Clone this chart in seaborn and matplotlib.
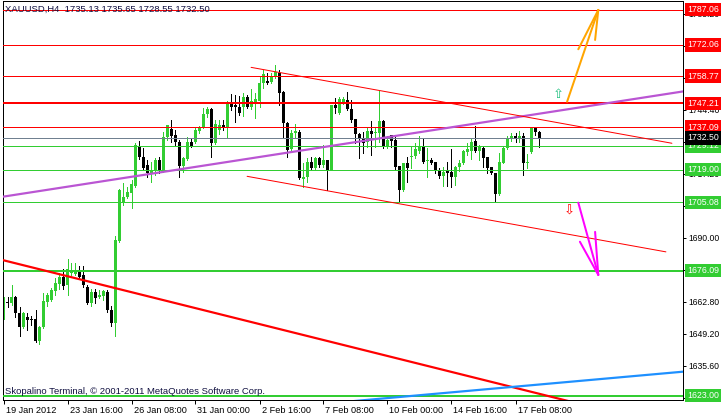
import numpy as np
import pandas as pd
import matplotlib
matplotlib.use("Agg")
import matplotlib.pyplot as plt
import matplotlib.transforms as mtransforms
import seaborn as sns

# ---------------- data ----------------
dates = ["19 Jan 2012", "23 Jan 16:00", "26 Jan 08:00", "31 Jan 00:00", "2 Feb 16:00",
         "7 Feb 08:00", "10 Feb 00:00", "14 Feb 16:00", "17 Feb 08:00"]
date_bars = [0, 16, 32, 48, 64, 80, 96, 112, 128]

opens = [1659.4, 1662.8, 1662.4, 1664.9, 1658.1, 1652.2, 1656.4, 1655.6, 1655.6, 1646.2,
         1652.2, 1662.8, 1663.7, 1667.5, 1670.4, 1673.4, 1670.0, 1675.1, 1674.7, 1675.5,
         1674.3, 1669.2, 1662.4, 1667.0, 1664.9, 1665.4, 1667.0, 1659.4, 1653.9, 1688.7,
         1704.9, 1707.4, 1709.1, 1712.1, 1729.1, 1724.4, 1721.0, 1717.6, 1718.9, 1723.2,
         1718.9, 1732.9, 1736.3, 1733.8, 1730.8, 1720.6, 1723.6, 1730.8, 1730.8, 1735.5,
         1737.2, 1742.7, 1744.8, 1730.4, 1735.9, 1738.0, 1737.2, 1747.8, 1746.5, 1745.7,
         1745.7, 1749.9, 1745.7, 1747.8, 1748.2, 1755.9, 1756.7, 1756.3, 1758.4, 1760.1,
         1752.1, 1738.9, 1727.8, 1734.6, 1735.1, 1715.1, 1715.9, 1722.3, 1719.8, 1724.0,
         1721.0, 1723.2, 1718.9, 1746.5, 1743.1, 1747.4, 1748.7, 1744.8, 1740.6, 1734.2,
         1732.5, 1730.8, 1735.5, 1734.6, 1734.6, 1739.7, 1728.7, 1733.8, 1731.7, 1720.6,
         1710.4, 1721.9, 1724.4, 1724.9, 1727.0, 1728.7, 1722.7, 1723.2, 1722.3, 1718.9,
         1716.4, 1718.5, 1718.1, 1715.9, 1720.2, 1721.9, 1726.6, 1727.0, 1731.2, 1727.0,
         1728.2, 1724.4, 1720.2, 1717.6, 1708.7, 1721.9, 1728.2, 1732.1, 1733.4, 1732.1,
         1733.4, 1721.9, 1726.6, 1737.2, 1735.13]
highs = [1664.9, 1664.9, 1670.0, 1665.4, 1660.7, 1658.6, 1658.1, 1656.9, 1659.4, 1652.6,
         1666.6, 1666.6, 1668.8, 1673.0, 1675.1, 1676.8, 1681.1, 1679.4, 1679.4, 1678.1,
         1678.1, 1670.0, 1668.3, 1668.3, 1667.9, 1667.9, 1667.9, 1661.1, 1690.9, 1710.8,
         1713.4, 1711.7, 1714.7, 1730.4, 1731.2, 1728.2, 1723.2, 1722.3, 1724.0, 1724.4,
         1735.1, 1738.0, 1740.2, 1735.9, 1731.7, 1724.4, 1732.9, 1732.1, 1737.2, 1737.6,
         1745.3, 1745.7, 1745.3, 1740.2, 1740.2, 1740.2, 1748.2, 1751.2, 1750.8, 1750.4,
         1751.6, 1750.8, 1753.3, 1751.6, 1758.4, 1761.4, 1760.1, 1760.1, 1763.5, 1761.4,
         1752.5, 1739.3, 1735.9, 1738.4, 1735.9, 1721.9, 1724.0, 1724.4, 1724.4, 1724.4,
         1729.5, 1723.2, 1746.5, 1749.5, 1749.9, 1749.9, 1752.1, 1748.7, 1740.6, 1734.6,
         1735.1, 1737.2, 1739.7, 1736.8, 1752.5, 1740.2, 1733.4, 1733.8, 1733.8, 1720.6,
         1721.9, 1724.4, 1728.7, 1730.4, 1733.4, 1732.5, 1728.2, 1724.0, 1722.3, 1719.8,
         1720.2, 1722.3, 1727.8, 1720.6, 1723.2, 1727.4, 1730.4, 1732.1, 1737.6, 1729.5,
         1728.7, 1724.4, 1720.2, 1717.6, 1726.1, 1728.7, 1733.4, 1734.6, 1734.6, 1735.5,
         1734.6, 1725.7, 1737.2, 1737.2, 1735.65]
lows = [1655.6, 1660.7, 1661.5, 1656.4, 1648.4, 1651.8, 1650.9, 1653.0, 1645.8, 1644.9,
        1651.8, 1661.1, 1663.2, 1665.8, 1668.3, 1668.3, 1665.8, 1674.3, 1674.3, 1672.6,
        1669.2, 1662.0, 1661.1, 1662.4, 1664.5, 1663.7, 1658.6, 1652.6, 1648.4, 1688.3,
        1704.0, 1707.0, 1702.8, 1711.7, 1723.6, 1718.9, 1715.9, 1713.8, 1716.8, 1717.6,
        1718.1, 1731.7, 1730.8, 1729.1, 1715.9, 1718.1, 1723.2, 1728.7, 1730.4, 1734.6,
        1736.8, 1741.4, 1724.4, 1730.0, 1734.2, 1735.9, 1732.5, 1744.4, 1739.3, 1742.3,
        1741.8, 1745.3, 1744.8, 1741.0, 1745.7, 1753.8, 1755.5, 1755.9, 1758.0, 1746.5,
        1732.9, 1724.4, 1726.6, 1732.9, 1715.1, 1711.7, 1713.8, 1718.9, 1718.9, 1720.2,
        1720.2, 1710.4, 1718.9, 1743.1, 1742.7, 1747.0, 1744.4, 1739.3, 1730.4, 1724.0,
        1726.1, 1728.7, 1725.3, 1728.7, 1730.8, 1728.2, 1728.2, 1728.7, 1718.9, 1705.3,
        1710.0, 1713.8, 1719.8, 1724.0, 1726.1, 1721.9, 1715.9, 1721.5, 1717.6, 1715.5,
        1712.1, 1712.1, 1711.7, 1712.5, 1718.5, 1721.5, 1725.3, 1723.6, 1726.6, 1723.2,
        1720.2, 1717.6, 1717.2, 1705.3, 1708.3, 1721.9, 1727.8, 1731.2, 1730.8, 1730.8,
        1716.8, 1719.8, 1726.1, 1733.8, 1728.55]
closes = [1662.8, 1662.4, 1664.9, 1658.1, 1652.2, 1658.1, 1655.2, 1655.2, 1646.2, 1652.2,
          1663.2, 1665.8, 1667.9, 1670.9, 1673.4, 1669.6, 1676.8, 1676.0, 1676.0, 1673.4,
          1670.0, 1662.4, 1667.0, 1664.5, 1665.8, 1667.5, 1659.4, 1653.9, 1689.2, 1710.4,
          1707.4, 1709.5, 1713.0, 1729.5, 1724.4, 1719.8, 1717.6, 1718.9, 1723.2, 1718.5,
          1732.9, 1738.0, 1733.4, 1730.8, 1720.6, 1724.0, 1730.8, 1729.1, 1735.9, 1737.2,
          1742.7, 1744.8, 1730.4, 1738.4, 1738.0, 1737.2, 1747.8, 1745.7, 1745.7, 1743.1,
          1749.9, 1745.7, 1748.2, 1749.1, 1755.9, 1759.7, 1755.9, 1758.4, 1760.6, 1751.6,
          1738.9, 1727.4, 1734.6, 1735.5, 1715.5, 1715.9, 1722.3, 1719.8, 1724.0, 1721.0,
          1723.2, 1718.9, 1746.5, 1745.3, 1749.1, 1749.1, 1744.8, 1740.2, 1734.2, 1732.1,
          1730.4, 1735.5, 1734.2, 1735.1, 1739.7, 1728.7, 1731.7, 1731.2, 1720.2, 1710.4,
          1721.9, 1719.8, 1724.9, 1727.8, 1729.1, 1722.3, 1723.2, 1721.9, 1718.9, 1716.4,
          1718.1, 1717.6, 1715.9, 1720.2, 1721.9, 1727.0, 1727.8, 1730.8, 1727.0, 1728.7,
          1724.0, 1719.8, 1717.6, 1708.7, 1722.3, 1728.2, 1732.5, 1733.4, 1732.1, 1733.4,
          1721.9, 1722.3, 1737.2, 1735.1, 1732.50]

resist_levels = [1787.06, 1772.06, 1758.77, 1747.21, 1737.09]
resist_thick = [False, False, False, True, False]
support_levels = [1729.12, 1719.00, 1705.08, 1676.09, 1623.00]
support_thick = [False, False, False, True, True]
current_price = 1732.50
axis_ticks = [1622.0, 1635.6, 1649.2, 1662.8, 1676.4, 1690.0, 1703.6, 1717.2,
              1730.8, 1744.4, 1758.0, 1771.6, 1785.2]

# trend lines: (bar index, price) end points
purple_line = {"bar": [-0.3, 170.0], "price": [1707.5, 1752.3]}
channel_top = {"bar": [61.9, 167.1], "price": [1762.5, 1730.25]}
channel_bot = {"bar": [60.9, 165.6], "price": [1716.2, 1684.1]}
red_trend = {"bar": [-0.3, 145.0], "price": [1680.65, 1619.1]}
blue_trend = {"bar": [85.0, 170.0], "price": [1620.3, 1633.2]}
up_arrow = {"bar": [140.9, 148.7], "price": [1747.9, 1786.9], "barb_bar": [143.7, 147.9], "barb_price": [1770.2, 1774.15]}
down_arrow = {"bar": [143.7, 148.7], "price": [1705.0, 1674.3], "barb_bar": [144.1, 147.9], "barb_price": [1688.4, 1692.6]}
up_sign = (138.7, 1750.8)
down_sign = (141.4, 1701.2)

title_text = "XAUUSD,H4  1735.13 1735.65 1728.55 1732.50"
footer_text = "Skopalino Terminal, \u00a9 2001-2011 MetaQuotes Software Corp."

# ---------------- styling ----------------
sns.set_style("white")
plt.rcParams["font.family"] = ["Liberation Sans", "DejaVu Sans"]

GREEN = "#32CD32"
RED = "#FF0000"
PX = 0.72  # points per pixel at dpi 100

W, H = 721, 417
fig = plt.figure(figsize=(W / 100, H / 100), dpi=100)
fig.patch.set_facecolor("white")
ax = fig.add_axes([2.5 / W, (H - 400) / H, (683.3 - 2.5) / W, 399 / H])
ax.set_facecolor("white")
ax.set_xlim(-0.25, 169.95)
ax.set_ylim(1621.15, 1790.7)

df = pd.DataFrame({"open": opens, "high": highs, "low": lows, "close": closes})
df["bar"] = np.arange(len(df))
df["bull"] = df["close"] > df["open"]
df["color"] = np.where(df["bull"], GREEN, "black")
df["bottom"] = df[["open", "close"]].min(axis=1)
df["height"] = (df["close"] - df["open"]).abs().clip(lower=0.45)

# candles
ax.vlines(df["bar"], df["low"], df["high"], colors=df["color"], linewidth=1 * PX,
          antialiased=False, zorder=2)
ax.bar(df["bar"], df["height"], bottom=df["bottom"], width=0.75, color=df["color"],
       linewidth=0, antialiased=False, zorder=2)

# horizontal levels
for lv, thick in zip(resist_levels, resist_thick):
    ax.axhline(lv, color=RED, linewidth=(2 if thick else 1) * PX, antialiased=False, zorder=3)
for lv, thick in zip(support_levels, support_thick):
    ax.axhline(lv, color=GREEN, linewidth=(2 if thick else 1) * PX, antialiased=False, zorder=3)
ax.axhline(current_price, color="#708090", linewidth=1 * PX, antialiased=False, zorder=3)

# trend lines with seaborn
def trend(d, color, lw):
    sns.lineplot(x=d["bar"], y=d["price"], color=color, linewidth=lw * PX, ax=ax,
                 sort=False, legend=False, zorder=4)

trend(purple_line, "#BA55D3", 2.2)
trend(channel_top, RED, 1)
trend(channel_bot, RED, 1)
trend(red_trend, RED, 2.2)
trend(blue_trend, "#1E90FF", 2.2)

# arrows
for arr, col in [(up_arrow, "#FFA500"), (down_arrow, "#FF00FF")]:
    ax.plot(arr["bar"], arr["price"], color=col, linewidth=2 * PX, zorder=5)
    for bb, bp in zip(arr["barb_bar"], arr["barb_price"]):
        ax.plot([arr["bar"][1], bb], [arr["price"][1], bp], color=col, linewidth=2 * PX, zorder=5)

ax.text(up_sign[0], up_sign[1], "\u21e7", color="#20C080", fontsize=9.5, ha="center",
        va="center", family="DejaVu Sans", zorder=6)
ax.text(down_sign[0], down_sign[1], "\u21e9", color=RED, fontsize=9.5, ha="center",
        va="center", family="DejaVu Sans", zorder=6)

# axes frame and ticks
for s in ax.spines.values():
    s.set_color("black")
    s.set_linewidth(1 * PX)
ax.yaxis.tick_right()
ax.set_yticks(axis_ticks)
ax.set_yticklabels([f"{v:.2f}" for v in axis_ticks])
ax.tick_params(axis="y", right=True, left=False, direction="out", length=2.5, width=PX,
               pad=1.5, labelsize=6.2, colors="black")
ax.set_xticks(date_bars)
ax.set_xticklabels(dates)
ax.tick_params(axis="x", bottom=True, direction="out", length=3, width=PX, pad=1,
               labelsize=6.6, colors="black")
offset = mtransforms.ScaledTranslation(2 / 100, 0, fig.dpi_scale_trans)
for lab in ax.get_xticklabels():
    lab.set_horizontalalignment("left")
    lab.set_transform(lab.get_transform() + offset)
ax.set_xlabel("")
ax.set_ylabel("")

# price label boxes on the right axis
ytr = ax.get_yaxis_transform()
boxes = [(lv, RED) for lv in resist_levels] + [(lv, GREEN) for lv in support_levels] + \
        [(current_price, "black")]
for lv, col in boxes:
    ax.text(1.0055, lv, f"{lv:.2f}", transform=ytr, color="white", fontsize=6.3,
            ha="left", va="center", clip_on=False, zorder=10,
            bbox=dict(boxstyle="square,pad=0.25", fc=col, ec="none"))

fig.text(5 / W, 1 - 9 / H, title_text, fontsize=6.8, color="#101040", va="center", ha="left")
fig.text(5 / W, 1 - 391 / H, footer_text, fontsize=6.8, color="#101040", va="center", ha="left")

fig.savefig("out.png", dpi=100)
